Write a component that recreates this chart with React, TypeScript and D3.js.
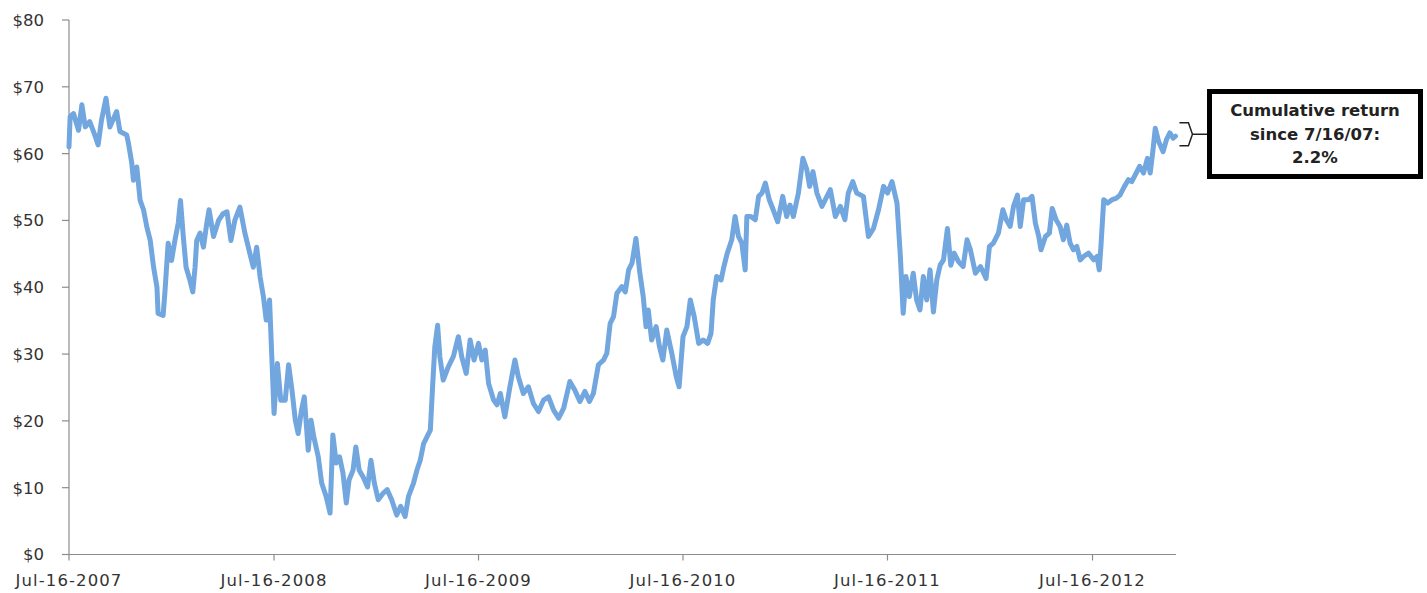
import React from "react";
import * as d3 from "d3";

// ---- data ----
const startDate = new Date(2007, 6, 16);
const endDate = new Date(2012, 11, 12);

// days elapsed since Jul-16-2007 for each observation
const dayOffsets = [
  0, 2, 8, 17, 23, 29, 37, 46, 52, 58, 66, 73, 85, 91, 103, 106, 112, 115, 121, 127,
  133, 139, 145, 151, 157, 159, 168, 171, 177, 183, 189, 195, 199, 204, 209, 216, 221, 225, 228, 234,
  240, 246, 250, 258, 267, 275, 282, 289, 296, 305, 314, 323, 329, 335, 341, 347, 352, 358, 362, 366,
  372, 378, 386, 392, 398, 404, 409, 415, 420, 427, 432, 437, 445, 451, 459, 466, 471, 477, 483, 489,
  495, 500, 507, 512, 518, 525, 533, 539, 545, 552, 561, 568, 576, 585, 592, 600, 606, 615, 621, 627,
  633, 639, 645, 649, 653, 658, 662, 668, 677, 686, 695, 701, 709, 716, 723, 731, 737, 743, 749, 758,
  764, 770, 778, 787, 796, 802, 811, 820, 829, 838, 847, 856, 865, 874, 883, 894, 903, 912, 921, 929,
  936, 945, 954, 960, 966, 972, 978, 987, 993, 999, 1005, 1012, 1019, 1025, 1030, 1034, 1040, 1048, 1054, 1060,
  1067, 1076, 1084, 1089, 1096, 1103, 1109, 1116, 1124, 1132, 1140, 1146, 1150, 1156, 1164, 1169, 1175, 1183, 1189, 1195,
  1201, 1207, 1210, 1217, 1225, 1231, 1237, 1243, 1250, 1257, 1265, 1274, 1281, 1287, 1293, 1302, 1310, 1317, 1322, 1328,
  1335, 1344, 1350, 1359, 1368, 1377, 1385, 1391, 1399, 1406, 1418, 1427, 1436, 1445, 1454, 1461, 1469, 1478, 1484, 1489,
  1494, 1500, 1507, 1513, 1519, 1525, 1531, 1537, 1543, 1549, 1555, 1561, 1568, 1574, 1580, 1588, 1596, 1603, 1609, 1618,
  1627, 1637, 1643, 1650, 1659, 1667, 1673, 1680, 1686, 1693, 1698, 1704, 1713, 1719, 1725, 1731, 1735, 1743, 1750, 1755,
  1762, 1769, 1775, 1781, 1787, 1793, 1799, 1805, 1811, 1820, 1829, 1835, 1839, 1842, 1847, 1854, 1862, 1869, 1876, 1884,
  1891, 1897, 1905, 1911, 1918, 1925, 1930, 1935, 1939, 1945, 1953, 1959, 1965, 1971, 1975,
];

// share price ($)
const prices = [
  61.0, 65.5, 66.0, 63.5, 67.3, 64.0, 64.8, 62.8, 61.3, 65.0, 68.3, 64.0, 66.3, 63.3, 62.8, 61.6, 58.6, 56.0, 58.0, 53.0,
  51.6, 49.0, 47.0, 43.0, 40.0, 36.1, 35.8, 39.0, 46.6, 44.0, 47.0, 49.6, 53.0, 47.6, 43.0, 41.0, 39.3, 43.0, 47.0, 48.1,
  46.0, 49.6, 51.6, 47.6, 50.0, 51.0, 51.3, 47.0, 50.0, 52.0, 48.1, 45.0, 43.0, 46.0, 41.6, 38.6, 35.1, 38.1, 29.6, 21.1,
  28.6, 23.1, 23.1, 28.4, 24.6, 20.1, 18.1, 21.6, 23.6, 15.6, 20.1, 17.6, 14.6, 10.7, 8.7, 6.2, 17.9, 13.7, 14.6, 12.2,
  7.7, 11.2, 12.6, 16.1, 12.6, 11.6, 10.1, 14.1, 10.7, 8.2, 9.2, 9.7, 8.2, 5.9, 7.2, 5.7, 8.7, 10.7, 12.6, 14.1,
  16.6, 17.6, 18.6, 25.1, 31.1, 34.3, 29.6, 26.1, 28.1, 29.6, 32.6, 29.6, 27.1, 32.1, 29.1, 31.6, 29.1, 30.6, 25.6, 23.1,
  22.4, 24.1, 20.6, 25.1, 29.1, 26.6, 24.1, 25.1, 22.6, 21.4, 23.1, 23.6, 21.6, 20.4, 21.9, 25.9, 24.6, 22.9, 24.4, 22.9,
  24.1, 28.4, 29.1, 30.1, 34.6, 35.6, 39.1, 40.1, 39.3, 42.6, 43.6, 47.3, 42.1, 38.6, 34.1, 36.6, 32.1, 34.1, 31.1, 29.1,
  33.6, 30.1, 26.6, 25.1, 32.6, 34.1, 38.1, 35.6, 31.6, 32.1, 31.6, 33.1, 38.1, 41.6, 41.1, 43.1, 45.1, 47.1, 50.6, 47.6,
  46.6, 42.6, 50.6, 50.6, 50.1, 53.6, 54.1, 55.6, 53.1, 51.6, 49.8, 53.6, 50.6, 52.3, 50.6, 54.1, 59.3, 57.6, 55.1, 57.3,
  54.1, 52.1, 53.1, 54.6, 50.6, 52.1, 50.1, 54.1, 55.8, 54.1, 53.6, 47.6, 48.8, 51.6, 55.1, 54.1, 55.8, 52.6, 44.6, 36.1,
  41.6, 38.6, 42.1, 38.1, 36.6, 41.6, 38.1, 42.6, 36.3, 41.1, 43.3, 44.1, 48.8, 43.3, 45.1, 43.8, 43.1, 47.1, 45.6, 42.1,
  43.1, 41.3, 46.1, 46.6, 48.1, 51.6, 50.1, 49.1, 52.1, 53.8, 49.1, 53.1, 53.1, 53.6, 49.6, 47.6, 45.6, 47.6, 48.1, 51.8,
  50.1, 49.1, 47.1, 49.3, 46.6, 45.6, 46.1, 44.1, 44.6, 45.1, 44.1, 44.6, 42.6, 46.1, 53.1, 52.6, 53.1, 53.3, 53.8, 55.1,
  56.1, 55.8, 57.1, 58.1, 57.1, 59.3, 57.1, 60.6, 63.8, 61.8, 60.3, 62.1, 63.1, 62.3, 62.6,
];

const yTicks = [0, 10, 20, 30, 40, 50, 60, 70, 80];
const xTickLabels = ["Jul-16-2007", "Jul-16-2008", "Jul-16-2009", "Jul-16-2010", "Jul-16-2011", "Jul-16-2012"];
const xTickYears = [2007, 2008, 2009, 2010, 2011, 2012];
const calloutLines = ["Cumulative return", "since 7/16/07:", "2.2%"];

// ---- layout ----
const W = 1427;
const H = 593;
const left = 69;
const right = 1176;
const top = 20;
const bottom = 554.5;
const font = "'DejaVu Sans', 'Open Sans', sans-serif";
const axisColor = "#8c8c8c";
const textColor = "#333";
const lineColor = "#72a6de";

export default function App() {
  const x = d3.scaleTime().domain([startDate, endDate]).range([left, right]);
  const y = d3.scaleLinear().domain([0, 80]).range([bottom, top]);

  const data = dayOffsets.map((d, i) => ({
    date: d3.timeDay.offset(startDate, d),
    value: prices[i],
  }));

  const line = d3
    .line<{ date: Date; value: number }>()
    .x((d) => x(d.date))
    .y((d) => y(d.value));

  const lastPt = data[data.length - 1];
  const bx0 = x(lastPt.date) + 4;
  const by = y(lastPt.value) - 2;

  return (
    <svg
      width={W}
      height={H}
      style={{ position: "absolute", left: 0, top: 0, background: "#fff" }}
      fontFamily={font}
    >
      {/* y axis */}
      <line x1={left} x2={left} y1={top} y2={bottom} stroke={axisColor} strokeWidth={1.2} />
      {yTicks.map((t) => (
        <g key={t}>
          <line x1={left - 7} x2={left} y1={y(t)} y2={y(t)} stroke={axisColor} strokeWidth={1.2} />
          <text
            x={44}
            y={y(t)}
            dy="0.36em"
            textAnchor="end"
            fontSize={16.5}
            fill={textColor}
          >
            {`$${t}`}
          </text>
        </g>
      ))}
      {/* x axis */}
      <line x1={left - 7} x2={right} y1={bottom} y2={bottom} stroke={axisColor} strokeWidth={1.2} />
      {xTickYears.map((yr, i) => {
        const xp = x(new Date(yr, 6, 16));
        return (
          <g key={yr}>
            <line x1={xp} x2={xp} y1={bottom} y2={bottom + 6} stroke={axisColor} strokeWidth={1.2} />
            <text
              x={xp}
              y={586}
              textAnchor="middle"
              fontSize={16.5}
              letterSpacing={1.1}
              fill={textColor}
            >
              {xTickLabels[i]}
            </text>
          </g>
        );
      })}
      {/* price line */}
      <path
        d={line(data) || ""}
        fill="none"
        stroke={lineColor}
        strokeWidth={5}
        strokeLinejoin="round"
        strokeLinecap="round"
      />
      {/* callout bracket */}
      <path
        d={`M${bx0},${by - 11.5} L${bx0 + 9},${by - 11.5} L${bx0 + 13},${by} L${bx0 + 9},${by + 11.5} L${bx0},${by + 11.5}`}
        fill="none"
        stroke="#222"
        strokeWidth={1.5}
      />
      <line x1={bx0 + 13} x2={1208} y1={by} y2={by} stroke="#222" strokeWidth={1.5} />
      {/* callout box */}
      <rect x={1209.5} y={91.5} width={211} height={85} fill="#fff" stroke="#000" strokeWidth={5} />
      {calloutLines.map((s, i) => (
        <text
          key={i}
          x={1315}
          y={116 + i * 23.5}
          textAnchor="middle"
          fontSize={16.5}
          fontWeight="bold"
          fill="#222"
        >
          {s}
        </text>
      ))}
    </svg>
  );
}
